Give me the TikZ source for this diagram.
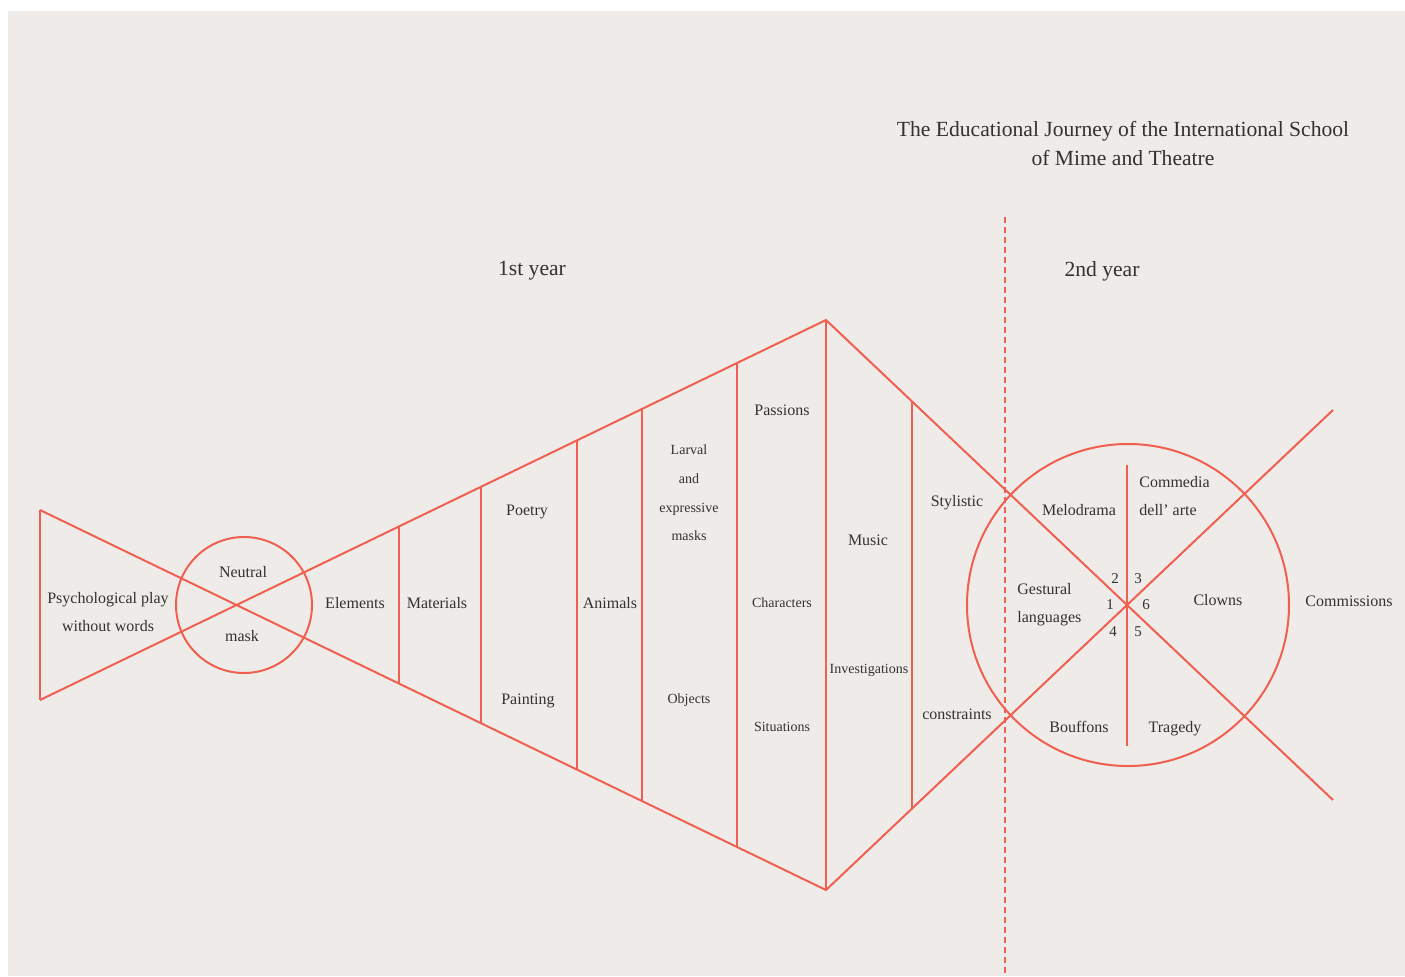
\documentclass[tikz,border=0pt]{standalone}
\usepackage{fontspec}
\setmainfont{Liberation Serif}
\usetikzlibrary{positioning,calc}
\definecolor{PaperBand}{RGB}{239,235,232}
\definecolor{CoralLine}{RGB}{240,96,80}
\definecolor{InkGrey}{RGB}{50,50,50}
\tikzset{
  guide/.style={draw=CoralLine,line width=1pt},
  divider/.style={draw=CoralLine,line width=1pt,dash pattern=on 3pt off 2pt},
  heading/.style={text=InkGrey,align=center,inner sep=0pt,
    font=\fontsize{10.8}{14.5}\selectfont},
  topic/.style={text=InkGrey,align=center,inner sep=0pt,
    font=\fontsize{8}{14}\selectfont},
  subtopic/.style={text=InkGrey,align=center,inner sep=0pt,
    font=\fontsize{7}{14.3}\selectfont},
  digit/.style={text=InkGrey,inner sep=0pt,font=\fontsize{7.5}{9}\selectfont}
}
\begin{document}
\begin{tikzpicture}[x=0.5pt,y=-0.5pt]
  \fill[white] (0,0) rectangle (1405,976);
  \fill[PaperBand] (8,11) rectangle (1405,976);
  \useasboundingbox (0,0) rectangle (1405,976);
  % outline of the journey
  \coordinate (lt) at (40,510);
  \coordinate (lb) at (40,700);
  \coordinate (apex) at (826,320);
  \coordinate (base) at (826,890);
  \coordinate (rlow) at (1333,800);
  \coordinate (rhigh) at (1333,410);
  \draw[guide] (lt) -- (lb);
  \draw[guide] (lt) -- (base) -- (rhigh);
  \draw[guide] (lb) -- (apex) -- (rlow);
  \draw[guide] (244,605) circle[radius=34pt];
  \foreach \x in {399,481,577,642,737,826}
    \draw[guide] ($(lb)!{(\x-40)/786}!(apex)$) -- ($(lt)!{(\x-40)/786}!(base)$);
  \draw[guide] ($(apex)!{86/507}!(rlow)$) -- ($(base)!{86/507}!(rhigh)$);
  % second year wheel
  \draw[guide] (1128,605) circle[radius=80.5pt];
  \draw[guide] (1127,465) -- (1127,746);
  \draw[divider] (1005,217) -- (1005,976);
  % headings
  \node[heading] (title) at (1123,143) {The Educational Journey of the International School\\of Mime and Theatre};
  \node[heading] (year1) at (532,271) {1st year};
  \node[heading] (year2) at (1102,271) {2nd year};
  % first year
  \node[topic] (psych) at (108,612) {Psychological play\\without words};
  \node[topic] (neutral) at (243,572) {Neutral};
  \node[topic] (mask) at (242,636) {mask};
  \node[topic] (elements) at (355,603) {Elements};
  \node[topic] (materials) at (437,603) {Materials};
  \node[topic] (poetry) at (527,512) {Poetry};
  \node[topic] (painting) at (528,701) {Painting};
  \node[topic] (animals) at (610,603) {Animals};
  \node[subtopic] (larval) at (689,493) {Larval\\and\\expressive\\masks};
  \node[subtopic] (objects) at (689,700) {Objects};
  \node[topic] (passions) at (782,410) {Passions};
  \node[subtopic] (characters) at (782,603) {Characters};
  \node[subtopic] (situations) at (782,727) {Situations};
  \node[topic] (music) at (868,540) {Music};
  \node[subtopic] (investigations) at (869,670) {Investigations};
  \node[topic] (stylistic) at (957,503) {Stylistic};
  \node[topic] (constraints) at (957,714) {constraints};
  % second year
  \node[topic] (melodrama) at (1079,510) {Melodrama};
  \node[topic,align=left,anchor=west] (commedia) at (1139,496) {Commedia\\dell’ arte};
  \node[topic,align=left,anchor=west] (gestural) at (1017,605) {Gestural\\languages};
  \node[topic] (clowns) at (1218,600) {Clowns};
  \node[topic] (bouffons) at (1079,727) {Bouffons};
  \node[topic] (tragedy) at (1175,729) {Tragedy};
  \node[topic] (commissions) at (1349,601) {Commissions};
  \node[digit] (n2) at (1115,579) {2};
  \node[digit] (n3) at (1138,579) {3};
  \node[digit] (n1) at (1110,605) {1};
  \node[digit] (n6) at (1146,605) {6};
  \node[digit] (n4) at (1113,632) {4};
  \node[digit] (n5) at (1138,632) {5};
\end{tikzpicture}
\end{document}
